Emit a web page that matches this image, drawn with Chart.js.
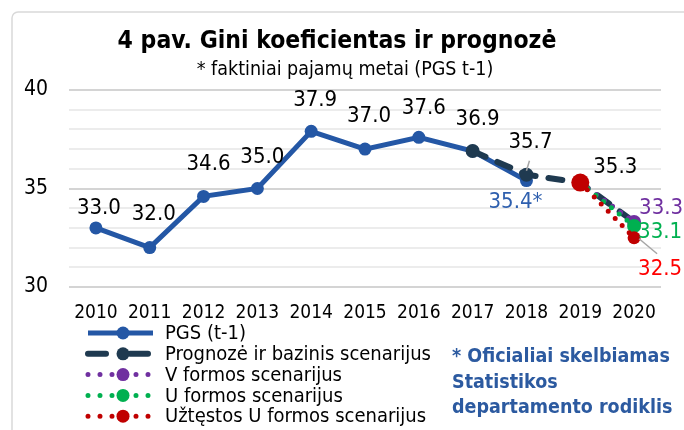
<!DOCTYPE html>
<html>
<head>
<meta charset="utf-8">
<script src="https://cdn.jsdelivr.net/npm/chart.js@4/dist/chart.umd.min.js"></script>
<style>
html, body { margin: 0; padding: 0; background: #fff; }
#wrap { width: 684px; height: 430px; position: relative; }
</style>
</head>
<body>
<div id="wrap"><canvas id="gini"></canvas></div>
<script>
var years = ['2010', '2011', '2012', '2013', '2014', '2015', '2016', '2017', '2018', '2019', '2020'];
var pgs = [33.0, 32.0, 34.6, 35.0, 37.9, 37.0, 37.6, 36.9, 35.4, null, null];
var prognoze = [null, null, null, null, null, null, null, 36.9, 35.7, 35.3, 33.3];
var vFormos = [null, null, null, null, null, null, null, null, null, 35.3, 33.3];
var uFormos = [null, null, null, null, null, null, null, null, null, 35.3, 33.1];
var uztestos = [null, null, null, null, null, null, null, null, null, 35.3, 32.5];
var yMin = 30, yMax = 40;

var titleText = '4 pav. Gini koeficientas ir prognozė';
var subtitleText = '* faktiniai pajamų metai (PGS t-1)';
var legendNames = ['PGS (t-1)', 'Prognozė ir bazinis scenarijus', 'V formos scenarijus', 'U formos scenarijus', 'Užtęstos U formos scenarijus'];
var noteLines = ['* Oficialiai skelbiamas', 'Statistikos', 'departamento rodiklis'];

var FONT = '"DejaVu Sans Condensed", "DejaVu Sans", sans-serif';
var BLUE = '#2457a5', DARK = '#1f3a50', PURPLE = '#7030a0', GREEN = '#00b050', RED = '#c00000';

// kur deti reiksmiu etiketes (dataset, taskas, poslinkis)
var labelSpots = [
  {ds: 0, i: 0, dx: 3, dy: -20, color: '#000'},
  {ds: 0, i: 1, dx: 4, dy: -33, color: '#000'},
  {ds: 0, i: 2, dx: 5, dy: -32, color: '#000'},
  {ds: 0, i: 3, dx: 5, dy: -31, color: '#000'},
  {ds: 0, i: 4, dx: 4, dy: -31, color: '#000'},
  {ds: 0, i: 5, dx: 4, dy: -33, color: '#000'},
  {ds: 0, i: 6, dx: 5, dy: -29, color: '#000'},
  {ds: 0, i: 7, dx: 5, dy: -32, color: '#000'},
  {ds: 0, i: 8, dx: -11, dy: 22, color: '#2e5fae', suffix: '*'},
  {ds: 1, i: 8, dx: 4, dy: -32, color: '#000', leader: [3, -14, 0, -4]},
  {ds: 1, i: 9, dx: 35, dy: -15, color: '#000'},
  {ds: 2, i: 10, dx: 27, dy: -14, color: PURPLE},
  {ds: 3, i: 10, dx: 26, dy: 6, color: GREEN},
  {ds: 4, i: 10, dx: 26, dy: 32, color: '#ff0000', leader: [5, 1, 23, 16]}
];

function drawSample(ctx, x0, x1, y, ds) {
  ctx.save();
  ctx.strokeStyle = ds.borderColor;
  ctx.lineWidth = ds.borderWidth;
  ctx.lineCap = ds.borderCapStyle || 'butt';
  var dash = ds.borderDash || [];
  if (dash.length && dash[0] === 0) dash = [0, 12];
  else if (dash.length) dash = [18, 24];
  ctx.setLineDash(dash);
  ctx.beginPath();
  ctx.moveTo(x0, y);
  ctx.lineTo(x1, y);
  ctx.stroke();
  ctx.setLineDash([]);
  ctx.fillStyle = ds.borderColor;
  ctx.beginPath();
  ctx.arc(123, y, 6.5, 0, Math.PI * 2);
  ctx.fill();
  ctx.restore();
}

var extras = {
  id: 'extras',
  beforeDraw: function(chart) {
    var ctx = chart.ctx;
    ctx.save();
    ctx.fillStyle = '#fff';
    ctx.fillRect(0, 0, chart.width, chart.height);
    ctx.strokeStyle = '#d9d9d9';
    ctx.lineWidth = 1.5;
    ctx.beginPath();
    ctx.moveTo(12, 440);
    ctx.lineTo(12, 18);
    ctx.arcTo(12, 12, 18, 12, 6);
    ctx.lineTo(690, 12);
    ctx.stroke();
    ctx.restore();
  },
  afterDatasetsDraw: function(chart) {
    var ctx = chart.ctx;
    ctx.save();
    ctx.textAlign = 'center';
    ctx.textBaseline = 'middle';
    ctx.font = '22px ' + FONT;
    labelSpots.forEach(function(s) {
      var pt = chart.getDatasetMeta(s.ds).data[s.i];
      var v = chart.data.datasets[s.ds].data[s.i];
      if (s.leader) {
        ctx.strokeStyle = '#a6a6a6';
        ctx.lineWidth = 1.5;
        ctx.beginPath();
        ctx.moveTo(pt.x + s.leader[0], pt.y + s.leader[1]);
        ctx.lineTo(pt.x + s.leader[2], pt.y + s.leader[3]);
        ctx.stroke();
      }
      ctx.fillStyle = s.color;
      ctx.fillText(v.toFixed(1) + (s.suffix || ''), pt.x + s.dx, pt.y + s.dy);
    });
    ctx.restore();
  },
  afterDraw: function(chart) {
    var ctx = chart.ctx;
    ctx.save();
    ctx.textAlign = 'center';
    ctx.textBaseline = 'middle';
    ctx.fillStyle = '#000';
    ctx.font = 'bold 24.5px ' + FONT;
    ctx.fillText(titleText, 337, 42);
    ctx.font = '19.5px ' + FONT;
    ctx.fillText(subtitleText, 345, 70);

    // legenda
    ctx.textAlign = 'left';
    ctx.font = '20px ' + FONT;
    chart.data.datasets.forEach(function(ds, k) {
      var y = 333 + k * 20.8;
      drawSample(ctx, 88, 153, y, ds);
      ctx.fillStyle = '#000';
      ctx.fillText(legendNames[k], 165, y + 1);
    });

    // pastaba
    ctx.fillStyle = '#2c5aa0';
    ctx.font = 'bold 19.5px ' + FONT;
    noteLines.forEach(function(t, k) {
      ctx.fillText(t, 452, 357 + k * 25.5);
    });
    ctx.restore();
  }
};

var ctx = document.getElementById('gini').getContext('2d');
var chart = new Chart(ctx, {
  type: 'line',
  data: {
    labels: years,
    datasets: [
      { label: legendNames[0], data: pgs, borderColor: BLUE, backgroundColor: BLUE,
        borderWidth: 5, pointRadius: 6.5, pointBorderWidth: 0, order: 5, fill: false },
      { label: legendNames[1], data: prognoze, borderColor: DARK, backgroundColor: DARK,
        borderWidth: 6, borderDash: [14, 13], borderCapStyle: 'round',
        pointRadius: [0, 0, 0, 0, 0, 0, 0, 7, 7, 0, 0], pointBorderWidth: 0, order: 4, fill: false },
      { label: legendNames[2], data: vFormos, borderColor: PURPLE, backgroundColor: PURPLE,
        borderWidth: 5, borderDash: [0, 10], borderCapStyle: 'round',
        pointRadius: [0, 0, 0, 0, 0, 0, 0, 0, 0, 0, 7], pointBorderWidth: 0, order: 3, fill: false },
      { label: legendNames[3], data: uFormos, borderColor: GREEN, backgroundColor: GREEN,
        borderWidth: 5, borderDash: [0, 10], borderCapStyle: 'round',
        pointRadius: [0, 0, 0, 0, 0, 0, 0, 0, 0, 0, 7], pointBorderWidth: 0, order: 2, fill: false },
      { label: legendNames[4], data: uztestos, borderColor: RED, backgroundColor: RED,
        borderWidth: 5, borderDash: [0, 10], borderCapStyle: 'round',
        pointRadius: [0, 0, 0, 0, 0, 0, 0, 0, 0, 9, 6.5], pointBorderWidth: 0, order: 1, fill: false }
    ]
  },
  options: {
    responsive: true,
    maintainAspectRatio: false,
    animation: false,
    spanGaps: false,
    layout: { padding: { top: 90, right: 23, left: 0, bottom: 0 } },
    plugins: {
      legend: { display: false },
      title: { display: false },
      tooltip: { enabled: false }
    },
    scales: {
      x: {
        offset: true,
        grid: { display: false, drawTicks: false, offset: true },
        border: { display: false },
        ticks: { color: '#000', font: { family: FONT, size: 19 }, padding: 15, maxRotation: 0, autoSkip: false },
        afterFit: function(scale) { scale.height = 143; }
      },
      y: {
        min: yMin,
        max: yMax,
        grid: {
          drawTicks: false,
          lineWidth: 2,
          color: function(c) { return c.tick && c.tick.value % 5 === 0 ? '#d4d4d4' : '#ececec'; }
        },
        border: { display: false },
        ticks: {
          stepSize: 1,
          autoSkip: false,
          padding: 21,
          color: '#000',
          font: { family: FONT, size: 21 },
          callback: function(v) { return v % 5 === 0 ? v : ''; }
        },
        afterFit: function(scale) { scale.width = 69; }
      }
    }
  },
  plugins: [extras]
});
</script>
</body>
</html>
